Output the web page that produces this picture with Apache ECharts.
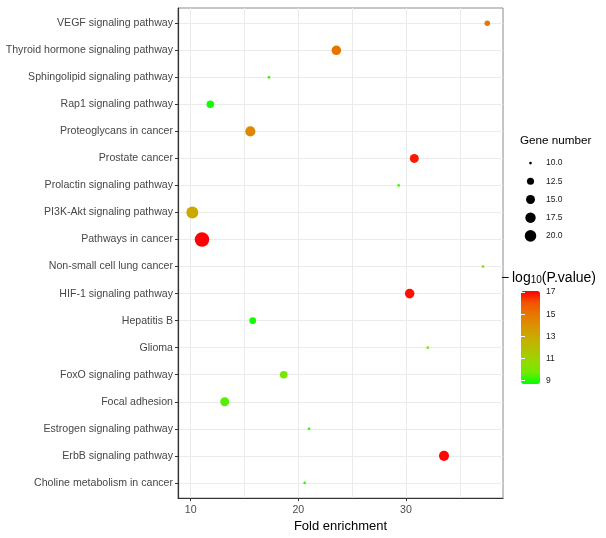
<!DOCTYPE html>
<html>
<head>
<meta charset="utf-8">
<script src="https://cdn.jsdelivr.net/npm/echarts@6/dist/echarts.min.js"></script>
<style>html,body{margin:0;padding:0;background:#fff}#c{width:606px;height:538px}</style>
</head>
<body>
<div id="c"></div>
<script>
// ---- data (top to bottom) ----
var categories = ['VEGF signaling pathway','Thyroid hormone signaling pathway','Sphingolipid signaling pathway','Rap1 signaling pathway','Proteoglycans in cancer','Prostate cancer','Prolactin signaling pathway','PI3K-Akt signaling pathway','Pathways in cancer','Non-small cell lung cancer','HIF-1 signaling pathway','Hepatitis B','Glioma','FoxO signaling pathway','Focal adhesion','Estrogen signaling pathway','ErbB signaling pathway','Choline metabolism in cancer'];
var foldEnrichment = [37.55, 23.53, 17.27, 11.82, 15.54, 30.77, 29.32, 10.15, 11.05, 37.15, 30.34, 15.76, 32.02, 18.64, 13.16, 20.99, 33.53, 20.59];
var negLog10P = [15.0, 15.1, 9.2, 8.9, 14.4, 16.8, 9.4, 13.0, 17.1, 10.3, 16.9, 8.9, 9.8, 9.9, 9.5, 9.3, 17.0, 9.2];
var geneNumber = [11, 16, 10, 13, 17, 15, 10, 21, 28, 10, 16, 12, 10, 13, 15, 10, 17, 10];
var xTickValues = [10, 20, 30];
var xGridValues = [10, 15, 20, 25, 30, 35];
var sizeBreaks = [10, 12.5, 15, 17.5, 20];
var colorBreaks = [9, 11, 13, 15, 17];

var FONT = '"Liberation Sans", Arial, sans-serif';
var X_MIN = 8.82, X_MAX = 39.01;
var CB_MIN = 8.7, CB_MAX = 17.1;
var gradient = ['#00FF00','#70EB00','#98D700','#B3C100','#C9AB00','#DA9200','#E87600','#F45300','#FF0000'];

function dotSize(v) { return 2.7 + 2.8 * Math.sqrt(Math.max(v[3] - 10, 0)); }

var catIdx = categories.map(function (c, i) { return i; });
var mainData = categories.map(function (c, i) {
  return [foldEnrichment[i], i, negLog10P[i], geneNumber[i], c];
});
var legendData = sizeBreaks.map(function (g, i) { return [0, i, 0, g]; });

var chart = echarts.init(document.getElementById('c'), null, {renderer: 'canvas'});
chart.setOption({
  animation: false,
  backgroundColor: '#ffffff',
  textStyle: {fontFamily: FONT},
  title: [
    {text: 'Gene number', left: 520, top: 134, padding: 0,
     textStyle: {fontFamily: FONT, fontSize: 11.7, fontWeight: 'normal', color: '#000', lineHeight: 14}},
    {text: '{a|\u2212\u2009log}{s|10}{a|(P.value)}', left: 501, top: 267, padding: 0,
     textStyle: {fontFamily: FONT, fontWeight: 'normal', color: '#000',
       rich: {
         a: {fontFamily: FONT, fontSize: 14, color: '#000', lineHeight: 18, verticalAlign: 'bottom'},
         s: {fontFamily: FONT, fontSize: 10, color: '#000', lineHeight: 9, verticalAlign: 'bottom'}
       }}}
  ],
  grid: [
    {left: 178, top: 8, width: 325, height: 500, show: true, borderColor: '#8a8a8a', borderWidth: 1, backgroundColor: '#fff'},
    {left: 520, top: 154, width: 21, height: 91},
    {left: 521, top: 291, width: 19, height: 93}
  ],
  xAxis: [
    {gridIndex: 0, type: 'value', min: X_MIN, max: X_MAX, position: 'bottom',
     axisLine: {show: false}, axisTick: {show: false, customValues: xGridValues},
     axisLabel: {show: false, customValues: xGridValues},
     splitLine: {show: true, lineStyle: {color: '#EBEBEB', width: 1}}},
    {gridIndex: 0, type: 'value', min: X_MIN, max: X_MAX, position: 'bottom',
     axisLine: {show: true, onZero: false, lineStyle: {color: '#333', width: 1.2}},
     axisTick: {show: true, length: 3, customValues: xTickValues, lineStyle: {color: '#333'}},
     axisLabel: {customValues: xTickValues, margin: 6, fontSize: 10.6, color: '#4D4D4D', fontFamily: FONT},
     splitLine: {show: false},
     name: 'Fold enrichment', nameLocation: 'middle', nameGap: 18,
     nameTextStyle: {fontSize: 13, color: '#000', fontFamily: FONT}},
    {gridIndex: 1, type: 'value', min: -1, max: 1, show: false},
    {gridIndex: 2, type: 'value', min: 0, max: 1, show: false}
  ],
  yAxis: [
    {gridIndex: 0, type: 'value', inverse: true, min: -0.563, max: 17.563,
     axisLine: {show: true, onZero: false, lineStyle: {color: '#333', width: 1.2}},
     axisTick: {show: true, length: 3, customValues: catIdx, lineStyle: {color: '#333'}},
     axisLabel: {customValues: catIdx, margin: 5, fontSize: 10.6, color: '#474747', fontFamily: FONT,
       formatter: function (v) { return categories[Math.round(v)]; }},
     splitLine: {show: true, lineStyle: {color: '#EBEBEB', width: 1}}},
    {gridIndex: 1, type: 'category', inverse: true, position: 'right',
     data: sizeBreaks.map(function (g) { return g.toFixed(1); }),
     axisLine: {show: false}, axisTick: {show: false}, splitLine: {show: false},
     axisLabel: {margin: 5, fontSize: 8.5, color: '#1a1a1a', fontFamily: FONT}},
    {gridIndex: 2, type: 'value', min: CB_MIN, max: CB_MAX, position: 'right', z: 10,
     axisLine: {show: false}, splitLine: {show: false},
     axisTick: {show: true, inside: true, length: 4, customValues: colorBreaks, lineStyle: {color: '#fff', width: 1}},
     axisLabel: {customValues: colorBreaks, margin: 6, fontSize: 8.5, color: '#1a1a1a', fontFamily: FONT}},
    {gridIndex: 2, type: 'value', min: CB_MIN, max: CB_MAX, position: 'left', z: 10,
     axisLine: {show: false}, splitLine: {show: false},
     axisTick: {show: true, inside: true, length: 4, customValues: colorBreaks, lineStyle: {color: '#fff', width: 1}},
     axisLabel: {show: false, customValues: colorBreaks}}
  ],
  visualMap: {
    type: 'continuous', seriesIndex: 0, dimension: 2,
    min: CB_MIN, max: CB_MAX, calculable: false, orient: 'vertical',
    left: 521, top: 291, padding: 0, itemWidth: 19, itemHeight: 93,
    inRange: {color: gradient}, hoverLink: false
  },
  series: [
    {type: 'scatter', xAxisIndex: 0, yAxisIndex: 0, data: mainData,
     symbol: 'circle', symbolSize: dotSize, itemStyle: {opacity: 1}, z: 5},
    {type: 'scatter', xAxisIndex: 2, yAxisIndex: 1, data: legendData,
     symbol: 'circle', symbolSize: dotSize, itemStyle: {color: '#000', opacity: 1}}
  ]
});
</script>
</body>
</html>
